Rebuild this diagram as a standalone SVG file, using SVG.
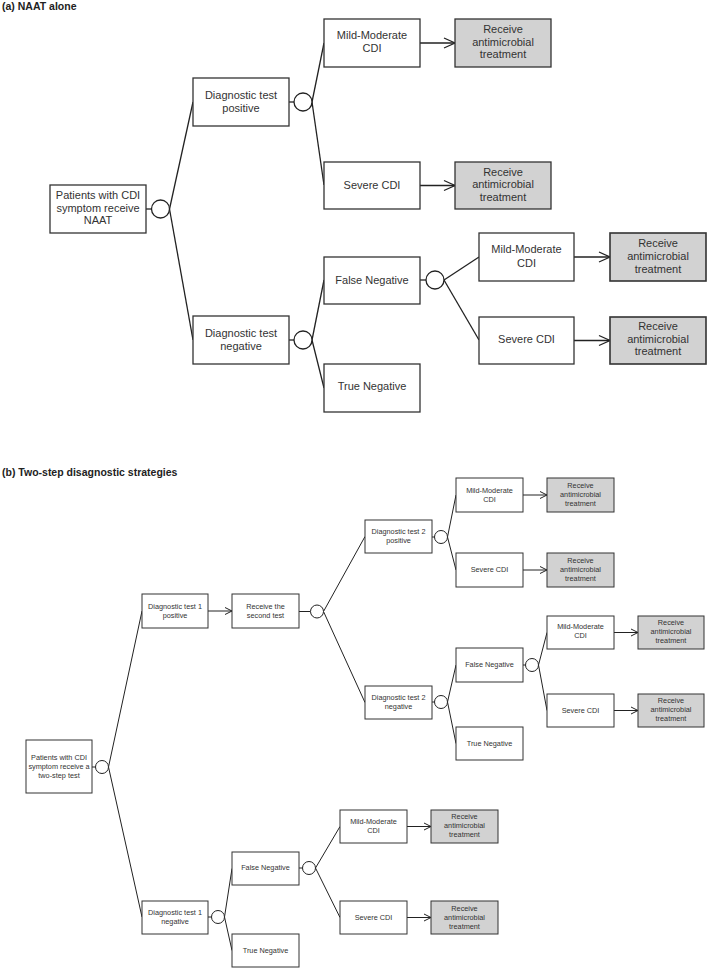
<svg xmlns="http://www.w3.org/2000/svg" width="708" height="970" viewBox="0 0 708 970">
<style>
rect{stroke:#333;}
.na{fill:#fff;stroke-width:1.3;}
.ga{fill:#d2d2d2;stroke-width:1.3;}
.nb{fill:#fff;stroke-width:1;}
.gb{fill:#d2d2d2;stroke-width:1;}
.ca{fill:#fff;stroke:#222;stroke-width:1.3;}
.cb{fill:#fff;stroke:#222;stroke-width:1;}
text{font-family:"Liberation Sans",Arial,sans-serif;fill:#333;text-anchor:middle;}
.ta{font-size:11px;}
.tb{font-size:7.3px;}
.title{font-size:10.5px;font-weight:bold;text-anchor:start;fill:#222;}
.la{stroke:#222;stroke-width:1.3;fill:none;}
.lb{stroke:#222;stroke-width:1;fill:none;}
.aa{marker-end:url(#ma);}
.ab{marker-end:url(#mb);}
</style>
<defs>
<marker id="ma" markerUnits="userSpaceOnUse" markerWidth="14" markerHeight="14" refX="11" refY="5" orient="auto" overflow="visible"><path d="M0,0 L11,5 L0,10" fill="none" stroke="#222" stroke-width="1.3"/></marker>
<marker id="mb" markerUnits="userSpaceOnUse" markerWidth="10" markerHeight="10" refX="7" refY="3.5" orient="auto" overflow="visible"><path d="M0,0 L7,3.5 L0,7" fill="none" stroke="#222" stroke-width="1"/></marker>
</defs>
<text class="title" x="2" y="10">(a) NAAT alone</text>
<text class="title" x="2" y="476">(b) Two-step disagnostic strategies</text>
<g id="connectors">
<line class="la" x1="146" y1="209" x2="151.5" y2="209"/>
<line class="la" x1="169.5" y1="209" x2="193" y2="102"/>
<line class="la" x1="169.5" y1="209" x2="193" y2="340"/>
<line class="la" x1="289" y1="102" x2="294" y2="102"/>
<line class="la" x1="312" y1="102" x2="324" y2="43"/>
<line class="la" x1="312" y1="102" x2="324" y2="185"/>
<line class="la aa" x1="420" y1="43" x2="455" y2="43"/>
<line class="la aa" x1="420" y1="185.5" x2="455" y2="185.5"/>
<line class="la" x1="289" y1="340" x2="294" y2="340"/>
<line class="la" x1="312" y1="340" x2="324" y2="280"/>
<line class="la" x1="312" y1="340" x2="324" y2="388"/>
<line class="la" x1="420" y1="280" x2="426" y2="280"/>
<line class="la" x1="444" y1="280" x2="479" y2="257"/>
<line class="la" x1="444" y1="280" x2="479" y2="340"/>
<line class="la aa" x1="574" y1="257" x2="610" y2="257"/>
<line class="la aa" x1="574" y1="340.5" x2="610" y2="340.5"/>
<line class="lb" x1="92" y1="767" x2="95.5" y2="767"/>
<line class="lb" x1="108.5" y1="767" x2="142" y2="611"/>
<line class="lb" x1="108.5" y1="767" x2="142" y2="917"/>
<line class="lb ab" x1="208" y1="611" x2="232" y2="611"/>
<line class="lb" x1="299" y1="611.5" x2="310.5" y2="611.5"/>
<line class="lb" x1="323.5" y1="611.5" x2="365" y2="536.5"/>
<line class="lb" x1="323.5" y1="611.5" x2="365" y2="702.5"/>
<line class="lb" x1="432" y1="537" x2="434.5" y2="537"/>
<line class="lb" x1="447.5" y1="537" x2="456" y2="495"/>
<line class="lb" x1="447.5" y1="537" x2="456" y2="570"/>
<line class="lb ab" x1="523" y1="495" x2="547" y2="495"/>
<line class="lb ab" x1="523" y1="570" x2="547" y2="570"/>
<line class="lb" x1="432" y1="702" x2="434.5" y2="702"/>
<line class="lb" x1="447.5" y1="702" x2="456" y2="665"/>
<line class="lb" x1="447.5" y1="702" x2="456" y2="743.5"/>
<line class="lb" x1="523" y1="665" x2="525.5" y2="665"/>
<line class="lb" x1="538.5" y1="665" x2="547" y2="632.5"/>
<line class="lb" x1="538.5" y1="665" x2="547" y2="710.5"/>
<line class="lb ab" x1="614" y1="632.5" x2="638" y2="632.5"/>
<line class="lb ab" x1="614" y1="710.5" x2="638" y2="710.5"/>
<line class="lb" x1="208" y1="917" x2="211.5" y2="917"/>
<line class="lb" x1="224.5" y1="917" x2="232" y2="868.5"/>
<line class="lb" x1="224.5" y1="917" x2="232" y2="950.5"/>
<line class="lb" x1="299" y1="868" x2="302.5" y2="868"/>
<line class="lb" x1="315.5" y1="868" x2="340" y2="826.5"/>
<line class="lb" x1="315.5" y1="868" x2="340" y2="917.5"/>
<line class="lb ab" x1="407" y1="826.5" x2="431" y2="826.5"/>
<line class="lb ab" x1="407" y1="917.5" x2="431" y2="917.5"/>
</g>
<!-- Part (a) -->
<g id="a-patients"><rect class="na" x="50" y="185" width="96" height="48"/><text class="ta" x="98"><tspan x="98" y="199">Patients with CDI</tspan><tspan x="98" y="211.5">symptom receive</tspan><tspan x="98" y="224">NAAT</tspan></text></g>
<g id="a-chance1"><circle class="ca" cx="160.5" cy="209" r="9"/></g>
<g id="a-pos"><rect class="na" x="193" y="78" width="96" height="48"/><text class="ta"><tspan x="241" y="98.5">Diagnostic test</tspan><tspan x="241" y="111.5">positive</tspan></text></g>
<g id="a-chance2"><circle class="ca" cx="303" cy="102" r="9"/></g>
<g id="a-mm1"><rect class="na" x="324" y="19" width="96" height="48"/><text class="ta"><tspan x="372" y="39">Mild-Moderate</tspan><tspan x="372" y="52">CDI</tspan></text></g>
<g id="a-rx1"><rect class="ga" x="455" y="19" width="96" height="48"/><text class="ta"><tspan x="503" y="33">Receive</tspan><tspan x="503" y="45.7">antimicrobial</tspan><tspan x="503" y="58.4">treatment</tspan></text></g>
<g id="a-sev1"><rect class="na" x="324" y="162" width="96" height="47"/><text class="ta" x="372" y="188.5">Severe CDI</text></g>
<g id="a-rx2"><rect class="ga" x="455" y="162" width="96" height="47"/><text class="ta"><tspan x="503" y="175.5">Receive</tspan><tspan x="503" y="188.2">antimicrobial</tspan><tspan x="503" y="200.9">treatment</tspan></text></g>
<g id="a-neg"><rect class="na" x="193" y="316" width="96" height="48"/><text class="ta"><tspan x="241" y="336.5">Diagnostic test</tspan><tspan x="241" y="349.5">negative</tspan></text></g>
<g id="a-chance3"><circle class="ca" cx="303" cy="340" r="9"/></g>
<g id="a-fn"><rect class="na" x="324" y="257" width="96" height="47"/><text class="ta" x="372" y="284">False Negative</text></g>
<g id="a-tn"><rect class="na" x="324" y="364" width="96" height="48"/><text class="ta" x="372" y="390">True Negative</text></g>
<g id="a-chance4"><circle class="ca" cx="435" cy="280" r="9"/></g>
<g id="a-mm2"><rect class="na" x="479" y="233" width="95" height="48"/><text class="ta"><tspan x="526.5" y="253">Mild-Moderate</tspan><tspan x="526.5" y="266.5">CDI</tspan></text></g>
<g id="a-rx3"><rect class="ga" x="610" y="233" width="96" height="48" style="stroke-width:1.6"/><text class="ta"><tspan x="658" y="246.5">Receive</tspan><tspan x="658" y="259.5">antimicrobial</tspan><tspan x="658" y="272.5">treatment</tspan></text></g>
<g id="a-sev2"><rect class="na" x="479" y="317" width="95" height="47"/><text class="ta" x="526.5" y="342.5">Severe CDI</text></g>
<g id="a-rx4"><rect class="ga" x="610" y="317" width="96" height="47" style="stroke-width:1.6"/><text class="ta"><tspan x="658" y="330">Receive</tspan><tspan x="658" y="342.5">antimicrobial</tspan><tspan x="658" y="355">treatment</tspan></text></g>
<!-- Part (b) -->
<g id="b-patients"><rect class="nb" x="26" y="740" width="66" height="53"/><text class="tb"><tspan x="59" y="760">Patients with CDI</tspan><tspan x="59" y="769.3">symptom receive a</tspan><tspan x="59" y="778.3">two-step test</tspan></text></g>
<g id="b-chance1"><circle class="cb" cx="102" cy="767" r="6.5"/></g>
<g id="b-pos1"><rect class="nb" x="142" y="594" width="66" height="34"/><text class="tb"><tspan x="175" y="608.6">Diagnostic test 1</tspan><tspan x="175" y="617.6">positive</tspan></text></g>
<g id="b-second"><rect class="nb" x="232" y="594" width="67" height="34"/><text class="tb"><tspan x="265.5" y="608.6">Receive the</tspan><tspan x="265.5" y="617.6">second test</tspan></text></g>
<g id="b-chance2"><circle class="cb" cx="317" cy="611.5" r="6.5"/></g>
<g id="b-pos2"><rect class="nb" x="365" y="520" width="67" height="33"/><text class="tb"><tspan x="398.5" y="534">Diagnostic test 2</tspan><tspan x="398.5" y="543.3">positive</tspan></text></g>
<g id="b-chance3"><circle class="cb" cx="441" cy="537" r="6.5"/></g>
<g id="b-mm1"><rect class="nb" x="456" y="478" width="67" height="34"/><text class="tb"><tspan x="489.5" y="492.6">Mild-Moderate</tspan><tspan x="489.5" y="501.6">CDI</tspan></text></g>
<g id="b-rx1"><rect class="gb" x="547" y="478" width="67" height="34"/><text class="tb"><tspan x="580.5" y="488.3">Receive</tspan><tspan x="580.5" y="497.3">antimicrobial</tspan><tspan x="580.5" y="506.3">treatment</tspan></text></g>
<g id="b-sev1"><rect class="nb" x="456" y="553" width="67" height="34"/><text class="tb" x="489.5" y="571.6">Severe CDI</text></g>
<g id="b-rx2"><rect class="gb" x="547" y="553" width="67" height="34"/><text class="tb"><tspan x="580.5" y="562.6">Receive</tspan><tspan x="580.5" y="571.6">antimicrobial</tspan><tspan x="580.5" y="580.6">treatment</tspan></text></g>
<g id="b-neg2"><rect class="nb" x="365" y="686" width="67" height="33"/><text class="tb"><tspan x="398.5" y="700">Diagnostic test 2</tspan><tspan x="398.5" y="709.3">negative</tspan></text></g>
<g id="b-chance4"><circle class="cb" cx="441" cy="702" r="6.5"/></g>
<g id="b-fn1"><rect class="nb" x="456" y="648" width="67" height="34"/><text class="tb" x="489.5" y="667">False Negative</text></g>
<g id="b-tn1"><rect class="nb" x="456" y="727" width="67" height="33"/><text class="tb" x="489.5" y="746">True Negative</text></g>
<g id="b-chance5"><circle class="cb" cx="532" cy="665" r="6.5"/></g>
<g id="b-mm2"><rect class="nb" x="547" y="616" width="67" height="33"/><text class="tb"><tspan x="580.5" y="629.3">Mild-Moderate</tspan><tspan x="580.5" y="638.3">CDI</tspan></text></g>
<g id="b-rx3"><rect class="gb" x="638" y="616" width="66" height="33"/><text class="tb"><tspan x="671" y="625">Receive</tspan><tspan x="671" y="634">antimicrobial</tspan><tspan x="671" y="643">treatment</tspan></text></g>
<g id="b-sev2"><rect class="nb" x="547" y="694" width="67" height="33"/><text class="tb" x="580.5" y="712.6">Severe CDI</text></g>
<g id="b-rx4"><rect class="gb" x="638" y="694" width="66" height="33"/><text class="tb"><tspan x="671" y="703.3">Receive</tspan><tspan x="671" y="712.3">antimicrobial</tspan><tspan x="671" y="721.3">treatment</tspan></text></g>
<g id="b-neg1"><rect class="nb" x="142" y="901" width="66" height="33"/><text class="tb"><tspan x="175" y="915">Diagnostic test 1</tspan><tspan x="175" y="924">negative</tspan></text></g>
<g id="b-chance6"><circle class="cb" cx="218" cy="917" r="6.5"/></g>
<g id="b-fn2"><rect class="nb" x="232" y="852" width="67" height="33"/><text class="tb" x="265.5" y="870">False Negative</text></g>
<g id="b-tn2"><rect class="nb" x="232" y="934" width="67" height="33"/><text class="tb" x="265.5" y="952.6">True Negative</text></g>
<g id="b-chance7"><circle class="cb" cx="309" cy="868" r="6.5"/></g>
<g id="b-mm3"><rect class="nb" x="340" y="810" width="67" height="33"/><text class="tb"><tspan x="373.5" y="824">Mild-Moderate</tspan><tspan x="373.5" y="833">CDI</tspan></text></g>
<g id="b-rx5"><rect class="gb" x="431" y="810" width="67" height="33"/><text class="tb"><tspan x="464.5" y="819.3">Receive</tspan><tspan x="464.5" y="828.3">antimicrobial</tspan><tspan x="464.5" y="837.3">treatment</tspan></text></g>
<g id="b-sev3"><rect class="nb" x="340" y="901" width="67" height="33"/><text class="tb" x="373.5" y="919.6">Severe CDI</text></g>
<g id="b-rx6"><rect class="gb" x="431" y="901" width="67" height="33"/><text class="tb"><tspan x="464.5" y="910.6">Receive</tspan><tspan x="464.5" y="919.6">antimicrobial</tspan><tspan x="464.5" y="928.6">treatment</tspan></text></g>
</svg>
